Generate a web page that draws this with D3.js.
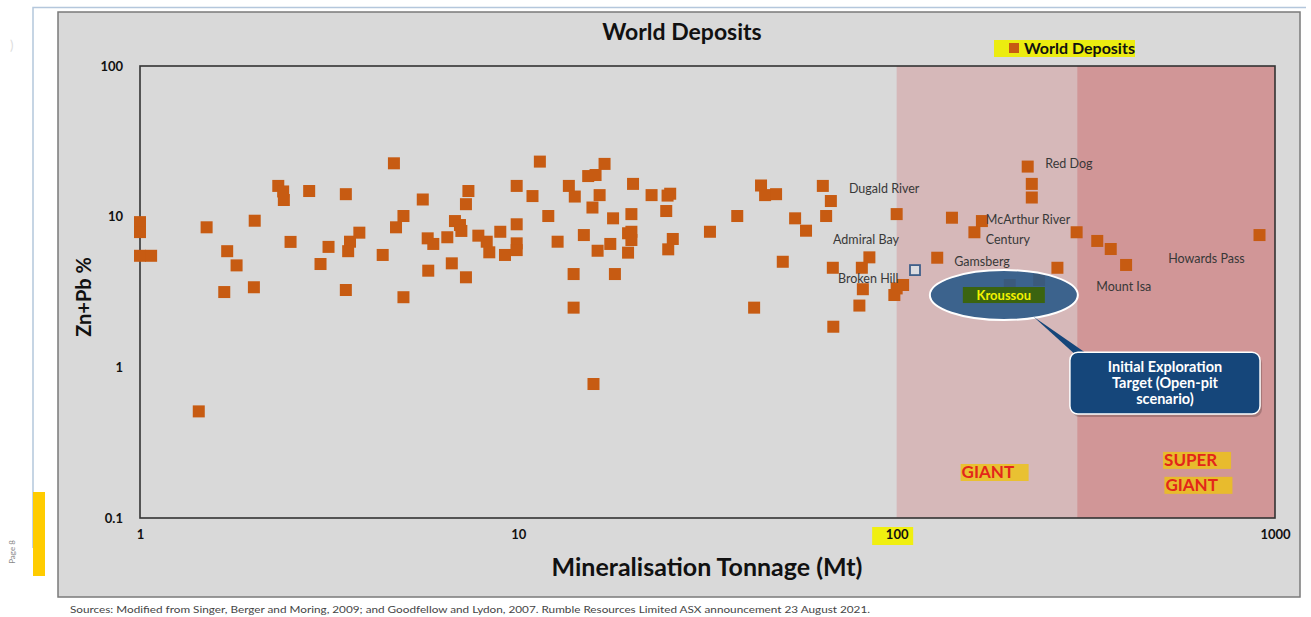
<!DOCTYPE html>
<html>
<head>
<meta charset="utf-8">
<script src="https://cdn.jsdelivr.net/npm/d3@7"></script>
<style>
  body { margin: 0; background: #ffffff; }
  svg { display: block; font-family: Lato, "Open Sans", sans-serif; }
</style>
</head>
<body>
<svg id="chart" width="1311" height="617"></svg>
<script>
"use strict";

// world deposits: tonnage (Mt) and Zn+Pb grade (%)
var tonnage = [1.0, 1.0, 1.0, 1.07, 1.50, 2.01, 1.70, 1.80, 1.67, 2.0,
    2.32, 2.39, 2.40, 2.80, 2.50, 3.00, 3.15, 4.69, 3.50, 5.59,
    7.38, 7.27, 9.9, 9.9, 4.97, 4.75, 3.80, 3.59, 3.55, 4.38,
    3.50, 4.97, 5.76, 5.96, 6.49, 6.80, 7.01, 7.07, 6.67, 5.78,
    7.27, 7.84, 8.25, 8.38, 8.96, 9.22, 9.9, 9.9, 11.4, 16.9,
    15.3, 16.0, 10.9, 13.6, 14.1, 16.4, 15.7, 20.1, 22.5, 25.2,
    24.8, 24.6, 19.9, 17.8, 12.0, 12.7, 14.9, 16.2, 17.5, 19.5,
    19.9, 19.9, 19.5, 25.6, 24.9, 14.0, 18.0, 14.0, 32.1, 43.8,
    44.9, 48.0, 63.8, 67.0, 37.9, 53.9, 65.1, 57.6, 50.0, 67.8,
    84.7, 80.9, 81.4, 79.7, 42.0, 68.0, 100, 100, 98.6, 140,
    168, 160.5, 222, 227.6, 227.6, 128, 104, 266, 299, 339,
    368, 404, 910, 15.8, 1.43, 199, 238];
var grade = [9.2, 7.9, 5.5, 5.5, 8.5, 9.4, 5.9, 4.75, 3.16, 3.4,
    16.0, 14.7, 12.9, 14.8, 6.8, 4.85, 6.3, 22.6, 14.1, 13.0,
    14.8, 12.1, 16.0, 8.9, 10.1, 8.5, 7.83, 6.82, 5.9, 5.57,
    3.26, 2.92, 7.18, 6.59, 7.3, 9.35, 8.8, 8.04, 4.9, 4.38,
    3.96, 7.48, 6.82, 5.8, 7.94, 5.57, 6.65, 6.0, 23.2, 22.4,
    18.6, 18.9, 13.7, 16.0, 13.6, 13.9, 11.5, 16.5, 13.9, 14.2,
    13.8, 10.9, 10.4, 9.75, 10.1, 6.82, 7.55, 5.94, 6.59, 7.76,
    7.94, 7.0, 5.77, 7.11, 6.07, 4.16, 4.16, 2.49, 7.94, 16.1,
    13.9, 14.1, 16.0, 12.7, 10.1, 9.75, 10.1, 8.07, 5.02, 4.58,
    5.37, 4.58, 3.30, 2.57, 2.49, 1.86, 10.4, 3.34, 3.02, 9.84,
    9.35, 7.88, 21.5, 16.5, 13.4, 5.34, 3.52, 4.58, 7.88, 6.9,
    6.1, 4.78, 7.55, 0.775, 0.51, 3.52, 3.80];

// Kroussou open-pit point
var kroussouT = [111.8];
var kroussouG = [4.42];

// named deposits (label anchor in data units)
var depositNames = ["Dugald River", "Admiral Bay", "Broken Hill", "Red Dog",
    "McArthur River", "Century", "Gamsberg", "Howards Pass", "Mount Isa"];
var labelT = [74.8, 67.9, 70.0, 247, 172, 172, 142, 522, 337];
var labelG = [15.3, 7.0, 3.86, 22.4, 9.5, 7.0, 5.0, 5.3, 3.41];

var xTicks = [1, 10, 100, 1000];
var yTicks = [0.1, 1, 10, 100];

// giant / super giant bands (Mt)
var bands = [[100, 300, "#d6b8b9"], [300, 1000, "#d19697"]];

var svg = d3.select("#chart");
var margin = {left: 140, top: 66, right: 1275, bottom: 518};
var x = d3.scaleLog().domain([1, 1000]).range([margin.left, margin.right]);
var y = d3.scaleLog().domain([0.1, 100]).range([margin.bottom, margin.top]);
var orange = "#c75b12";

// page frame
svg.append("path")
    .attr("d", "M33,548 V7.5 H1306")
    .attr("fill", "none")
    .attr("stroke", "#b4c7dc")
    .attr("stroke-width", 1.5);
svg.append("rect")
    .attr("x", 33).attr("y", 492).attr("width", 12).attr("height", 84)
    .attr("fill", "#ffcc00");
svg.append("text")
    .attr("transform", "translate(15,552) rotate(-90)")
    .attr("text-anchor", "middle")
    .attr("font-size", 8)
    .attr("fill", "#888")
    .text("Page 8");
svg.append("text")
    .attr("x", 10).attr("y", 50)
    .attr("font-size", 13)
    .attr("fill", "#ddd")
    .text(")");

// chart area
svg.append("rect")
    .attr("x", 58).attr("y", 12).attr("width", 1242).attr("height", 585)
    .attr("fill", "#d9d9d9")
    .attr("stroke", "#7a7a7a")
    .attr("stroke-width", 1.5);

// bands
svg.append("g").selectAll("rect")
    .data(bands)
  .enter().append("rect")
    .attr("x", function(d) { return x(d[0]); })
    .attr("y", margin.top)
    .attr("width", function(d) { return x(d[1]) - x(d[0]); })
    .attr("height", margin.bottom - margin.top)
    .attr("fill", function(d) { return d[2]; });

// plot border
svg.append("rect")
    .attr("x", margin.left).attr("y", margin.top)
    .attr("width", margin.right - margin.left)
    .attr("height", margin.bottom - margin.top)
    .attr("fill", "none")
    .attr("stroke", "#333")
    .attr("stroke-width", 1.6);

// axes (labels only, no tick marks)
var xAxis = d3.axisBottom(x).tickValues(xTicks).tickFormat(d3.format("d")).tickSize(0).tickPadding(12);
var yAxis = d3.axisLeft(y).tickValues(yTicks).tickFormat(function(d) { return d < 1 ? d3.format(".1f")(d) : d3.format("d")(d); }).tickSize(0).tickPadding(17);

var gx = svg.append("g").attr("transform", "translate(0," + margin.bottom + ")").call(xAxis);
var gy = svg.append("g").attr("transform", "translate(" + margin.left + ",0)").call(yAxis);
[gx, gy].forEach(function(g) {
    g.select(".domain").remove();
    g.selectAll("text")
        .attr("font-family", "Lato, sans-serif")
        .attr("font-weight", "bold")
        .attr("font-size", 13)
        .attr("fill", "#111");
});
// yellow highlight under the 100 tick
var t100 = gx.selectAll(".tick").filter(function(d) { return d === 100; });
t100.insert("rect", "text")
    .attr("x", -25).attr("y", 9).attr("width", 41).attr("height", 18)
    .attr("fill", "#f0ef10");

// deposits
svg.append("g").selectAll("rect")
    .data(tonnage)
  .enter().append("rect")
    .attr("x", function(d) { return x(d) - 6; })
    .attr("y", function(d, i) { return y(grade[i]) - 6; })
    .attr("width", 12).attr("height", 12)
    .attr("fill", orange);

svg.append("g").selectAll("rect")
    .data(kroussouT)
  .enter().append("rect")
    .attr("x", function(d) { return x(d) - 5; })
    .attr("y", function(d, i) { return y(kroussouG[i]) - 5; })
    .attr("width", 10).attr("height", 10)
    .attr("fill", "#dcdce0")
    .attr("stroke", "#3f5f8a")
    .attr("stroke-width", 1.8);

// deposit names
svg.append("g").selectAll("text")
    .data(depositNames)
  .enter().append("text")
    .attr("x", function(d, i) { return x(labelT[i]); })
    .attr("y", function(d, i) { return y(labelG[i]); })
    .attr("dy", "0.35em")
    .attr("font-family", "Lato, sans-serif")
    .attr("font-size", 12.5)
    .attr("fill", "#383838")
    .text(function(d) { return d; });

// Kroussou ellipse
var ex = x(192), ey = y(3.02);
svg.append("ellipse")
    .attr("cx", ex).attr("cy", ey).attr("rx", 74).attr("ry", 25)
    .attr("fill", "#2b5a88")
    .attr("fill-opacity", 0.9)
    .attr("stroke", "#ffffff")
    .attr("stroke-width", 2);
svg.append("rect")
    .attr("x", ex - 41).attr("y", ey - 8).attr("width", 82).attr("height", 16)
    .attr("fill", "#3b6410");
svg.append("text")
    .attr("x", ex).attr("y", ey).attr("dy", "0.35em")
    .attr("text-anchor", "middle")
    .attr("font-weight", "bold")
    .attr("font-size", 13)
    .attr("fill", "#f2f200")
    .text("Kroussou");

// callout box
var bx0 = x(287), bx1 = x(913), by0 = y(1.26), by1 = y(0.49);
svg.append("polygon")
    .attr("points", [[x(230), y(2.17)], [x(294), by0 + 1], [x(317), by0 + 1]].join(" "))
    .attr("fill", "#15467a");
svg.append("rect")
    .attr("x", bx0 + 2).attr("y", by0 + 3)
    .attr("width", bx1 - bx0).attr("height", by1 - by0)
    .attr("rx", 8)
    .attr("fill", "#000").attr("opacity", 0.2);
svg.append("rect")
    .attr("x", bx0).attr("y", by0)
    .attr("width", bx1 - bx0).attr("height", by1 - by0)
    .attr("rx", 8)
    .attr("fill", "#15467a")
    .attr("stroke", "#ffffff")
    .attr("stroke-width", 1.5);
var callLines = ["Initial Exploration", "Target (Open-pit", "scenario)"];
svg.append("g").selectAll("text")
    .data(callLines)
  .enter().append("text")
    .attr("x", (bx0 + bx1) / 2)
    .attr("y", function(d, i) { return by0 + 15 + i * 16; })
    .attr("dy", "0.35em")
    .attr("text-anchor", "middle")
    .attr("font-weight", "bold")
    .attr("font-size", 14.5)
    .attr("fill", "#ffffff")
    .text(function(d) { return d; });

// GIANT / SUPER GIANT
var sizeLabels = [["GIANT", 175, 0.202], ["SUPER", 600, 0.243], ["GIANT", 605, 0.166]];
var sl = svg.append("g").selectAll("g")
    .data(sizeLabels)
  .enter().append("g")
    .attr("transform", function(d) { return "translate(" + x(d[1]) + "," + y(d[2]) + ")"; });
sl.append("rect")
    .attr("x", -28).attr("y", -8).attr("width", 68).attr("height", 17)
    .attr("fill", "#ecc21a").attr("opacity", 0.85);
sl.append("text")
    .attr("x", -27)
    .attr("dy", "0.35em")
    .attr("font-weight", "bold")
    .attr("font-size", 17)
    .attr("fill", "#e3261a")
    .text(function(d) { return d[0]; });

// title
svg.append("text")
    .attr("x", 682).attr("y", 40)
    .attr("text-anchor", "middle")
    .attr("font-weight", "bold")
    .attr("font-size", 23)
    .attr("fill", "#111")
    .text("World Deposits");

// legend
svg.append("rect")
    .attr("x", 994).attr("y", 40).attr("width", 141).attr("height", 17)
    .attr("fill", "#ecec10");
svg.append("rect")
    .attr("x", 1009).attr("y", 43).attr("width", 10).attr("height", 10)
    .attr("fill", orange);
svg.append("text")
    .attr("x", 1024).attr("y", 48).attr("dy", "0.35em")
    .attr("font-weight", "bold")
    .attr("font-size", 16)
    .attr("fill", "#111")
    .text("World Deposits");

// axis titles
svg.append("text")
    .attr("x", 707).attr("y", 567).attr("dy", "0.35em")
    .attr("text-anchor", "middle")
    .attr("font-weight", "bold")
    .attr("font-size", 25)
    .attr("fill", "#111")
    .text("Mineralisation Tonnage (Mt)");
svg.append("text")
    .attr("transform", "translate(84,297) rotate(-90)")
    .attr("text-anchor", "middle")
    .attr("dy", "0.35em")
    .attr("font-weight", "bold")
    .attr("font-size", 20)
    .attr("fill", "#111")
    .text("Zn+Pb %");

// source note
svg.append("text")
    .attr("x", 70).attr("y", 610).attr("dy", "0.35em")
    .attr("font-size", 8.5)
    .attr("fill", "#444")
    .attr("textLength", 800)
    .attr("lengthAdjust", "spacingAndGlyphs")
    .text("Sources: Modified from Singer, Berger and Moring, 2009; and Goodfellow and Lydon, 2007. Rumble Resources Limited ASX announcement 23 August 2021.");
</script>
</body>
</html>
